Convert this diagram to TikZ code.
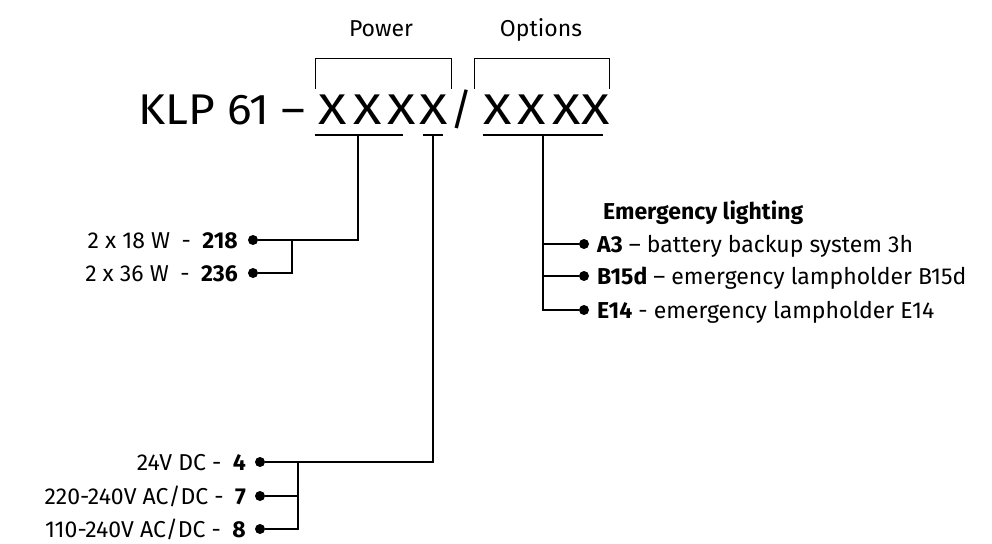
\documentclass[tikz,border=0pt]{standalone}
\usepackage{fontspec}
\setmainfont{Fira Sans}
\begin{document}
\begin{tikzpicture}[x=1pt,y=-1pt]
\tikzset{
  lab/.style={font=\fontsize{23}{27}\selectfont, inner sep=0pt},
  hdr/.style={font=\fontsize{23}{27}\selectfont, inner sep=0pt},
  ttl/.style={font=\fontsize{43}{50}\selectfont, inner sep=0pt},
  xch/.style={ttl, xscale=1.22},
  dotn/.style={circle, fill=black, inner sep=0pt, minimum size=10pt},
  conn/.style={line width=1.8pt},
  brk/.style={line width=1pt},
  uline/.style={line width=1.3pt},
}
\useasboundingbox (0,0) rectangle (992,543);
% header labels
\node[hdr, anchor=base] (power) at (381,37) {Power};
\node[hdr, anchor=base] (options) at (541,37) {Options};
% brackets
\coordinate (pb1) at (315,89); \coordinate (pb2) at (451,89);
\coordinate (ob1) at (474,89); \coordinate (ob2) at (609,89);
\draw[brk] (pb1) -- ++(0,-30) -| (pb2);
\draw[brk] (ob1) -- ++(0,-30) -| (ob2);
% title
\node[ttl, anchor=base west, xscale=1.07] (klp) at (138,124) {KLP 61 –};
\node[xch, anchor=base] (x1) at (333,124) {X};
\node[xch, anchor=base] (x2) at (368,124) {X};
\node[xch, anchor=base] (x3) at (402,124) {X};
\node[xch, anchor=base] (x4) at (434,124) {X};
\node[ttl, anchor=base] (sl) at (462,124) {/};
\node[xch, anchor=base] (x5) at (498,124) {X};
\node[xch, anchor=base] (x6) at (532,124) {X};
\node[xch, anchor=base] (x7) at (567,124) {X};
\node[xch, anchor=base] (x8) at (596,124) {X};
% underlines
\coordinate (ua) at (315,135); \coordinate (ub) at (403,135);
\coordinate (uc) at (423,135); \coordinate (ud) at (443,135);
\coordinate (ue) at (483,135); \coordinate (uf) at (603,135);
\draw[uline] (ua) -- (ub);
\draw[uline] (uc) -- (ud);
\draw[uline] (ue) -- (uf);
\coordinate (u1) at (358,135);
\coordinate (u2) at (433,135);
\coordinate (u3) at (543,135);
% left upper
\node[dotn] (d218) at (253,240) {};
\node[dotn] (d236) at (253,273) {};
\node[lab, anchor=base east] (t218) at (238,248) {2 x 18 W\,\,\,-\,\,\,\textbf{218}};
\node[lab, anchor=base east] (t236) at (238,281) {2 x 36 W\,\,\,-\,\,\,\textbf{236}};
\coordinate (j1) at (292,240);
\draw[conn] (d218) -| (u1);
\draw[conn] (d236) -| (j1);
% left lower
\node[dotn] (d4) at (260,462) {};
\node[dotn] (d7) at (260,496) {};
\node[dotn] (d8) at (260,529) {};
\node[lab, anchor=base east] (t4) at (246,470) {24V DC -\,\,\,\textbf{4}};
\node[lab, anchor=base east] (t7) at (246,504) {220-240V AC/DC -\,\,\,\textbf{7}};
\node[lab, anchor=base east] (t8) at (246,537) {110-240V AC/DC -\,\,\,\textbf{8}};
\coordinate (j2) at (298,462);
\draw[conn] (d4) -| (u2);
\draw[conn] (d7) -| (j2);
\draw[conn] (d8) -| (j2);
% right
\node[lab, anchor=base west] (em) at (603,219) {\textbf{Emergency lighting}};
\node[dotn] (dA) at (584,244) {};
\node[dotn] (dB) at (584,276) {};
\node[dotn] (dE) at (584,310) {};
\node[lab, anchor=base west] (tA) at (597,252) {\textbf{A3} – battery backup system 3h};
\node[lab, anchor=base west] (tB) at (597,284) {\textbf{B15d} – emergency lampholder B15d};
\node[lab, anchor=base west] (tE) at (597,318) {\textbf{E14} - emergency lampholder E14};
\draw[conn] (u3) |- (dE);
\draw[conn] (u3 |- dA) -- (dA);
\draw[conn] (u3 |- dB) -- (dB);
\end{tikzpicture}
\end{document}
